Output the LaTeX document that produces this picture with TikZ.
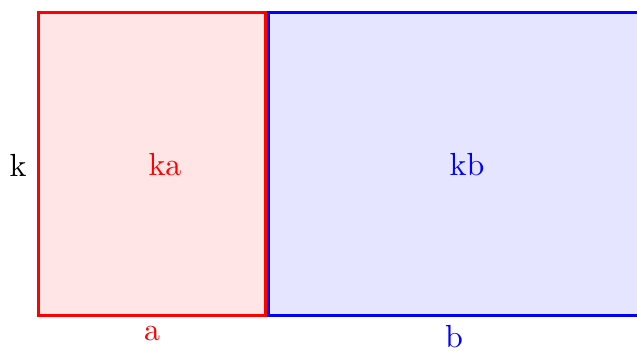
\documentclass[tikz,border=0pt]{standalone}
\usepackage{tikz}
\usetikzlibrary{positioning,calc}

\begin{document}
\begin{tikzpicture}[
  x=0.3pt, y=-0.3pt,
  part/.style={line width=0.9pt},
  lbl/.style={inner sep=1.5pt, font=\fontsize{9.6}{11}\selectfont},
]
  \useasboundingbox (0,0) rectangle (637,350);
  \clip (0,0) rectangle (637,350);

  \draw[part, draw=red, fill=red!10] (38,12) rectangle (265,315);
  \draw[part, draw=blue, fill=blue!10] (268,12) rectangle (642,315);

  \coordinate (abase) at (152,315);
  \coordinate (bbase) at (454,315);

  \node[lbl] (k) at (18,165) {k};
  \node[lbl, red] (ka) at (165,165) {ka};
  \node[lbl, blue] (kb) at (467,165) {kb};
  \node[lbl, red, below=1.5pt of abase] (a) {a};
  \node[lbl, blue, below=1.5pt of bbase] (b) {b};
\end{tikzpicture}
\end{document}
